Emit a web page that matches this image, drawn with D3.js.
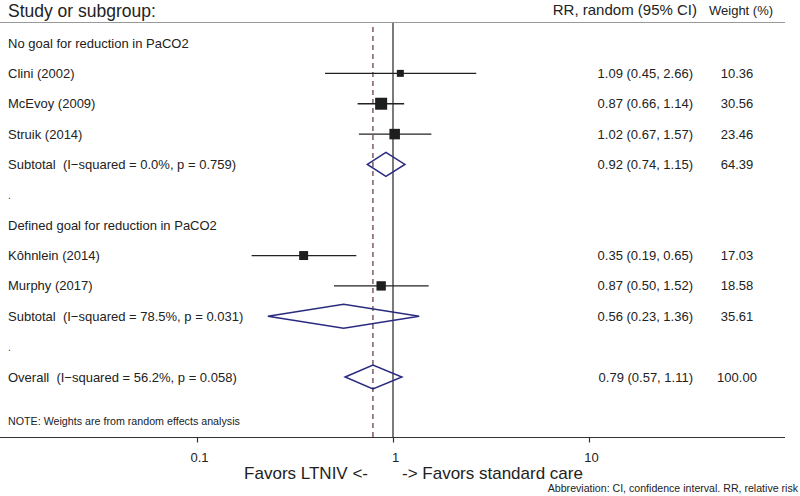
<!DOCTYPE html>
<html><head><meta charset="utf-8">
<script src="https://cdn.jsdelivr.net/npm/d3@7"></script>
<style>body{margin:0;background:#fff}svg{display:block}text{font-family:"Liberation Sans",Arial,sans-serif;fill:#222;white-space:pre}</style>
</head><body><svg id="c" width="800" height="496"></svg>
<script>
const labels = ["No goal for reduction in PaCO2","Clini (2002)","McEvoy (2009)","Struik (2014)","Subtotal  (I\u2212squared = 0.0%, p = 0.759)",".","Defined goal for reduction in PaCO2","K\u00f4hnlein (2014)","Murphy (2017)","Subtotal  (I\u2212squared = 78.5%, p = 0.031)",".","Overall  (I\u2212squared = 56.2%, p = 0.058)"];
const rowType = ["head","study","study","study","sub","dot","head","study","study","sub","dot","sub"];
const rr    = [null,1.09,0.87,1.02,0.92,null,null,0.35,0.87,0.56,null,0.79];
const lo    = [null,0.45,0.66,0.67,0.74,null,null,0.19,0.50,0.23,null,0.57];
const hi    = [null,2.66,1.14,1.57,1.15,null,null,0.65,1.52,1.36,null,1.11];
const weight= [null,10.36,30.56,23.46,64.39,null,null,17.03,18.58,35.61,null,100.00];
const tickVals = [0.1,1,10];
const overall = 0.79;

const svg = d3.select("#c");
const x = d3.scaleLog().domain([0.1,10]).range([197,589]);
const y = d3.scaleLinear().domain([0,11]).range([43,377]);

// header
svg.append("text").attr("x",8).attr("y",17).attr("font-size",17.5).text("Study or subgroup:");
svg.append("text").attr("x",697).attr("y",15).attr("text-anchor","end").attr("font-size",15).text("RR, random (95% CI)");
svg.append("text").attr("x",709).attr("y",15).attr("font-size",13).text("Weight (%)");
svg.append("line").attr("x1",0).attr("x2",785).attr("y1",22.5).attr("y2",22.5).attr("stroke","#999").attr("stroke-width",1);

// null & overall lines
svg.append("line").attr("x1",x(1)).attr("x2",x(1)).attr("y1",23).attr("y2",437).attr("stroke","#222").attr("stroke-width",1.2);
svg.append("line").attr("x1",x(overall)).attr("x2",x(overall)).attr("y1",27).attr("y2",437).attr("stroke","#5a3442").attr("stroke-width",1.2).attr("stroke-dasharray","5,4");

// rows
labels.forEach((l,i)=>{
  const yy = y(i);
  svg.append("text").attr("x",8).attr("y",yy+4.5).attr("font-size",l==="."?10:13).text(l);
  if(rr[i]!=null){
    svg.append("text").attr("x",693).attr("y",yy+4.5).attr("text-anchor","end").attr("font-size",13).text(`${rr[i].toFixed(2)} (${lo[i].toFixed(2)}, ${hi[i].toFixed(2)})`);
    svg.append("text").attr("x",737).attr("y",yy+4.5).attr("text-anchor","middle").attr("font-size",13).text(weight[i].toFixed(2));
  }
  if(rowType[i]==="study"){
    svg.append("line").attr("x1",x(lo[i])).attr("x2",x(hi[i])).attr("y1",yy).attr("y2",yy).attr("stroke","#222").attr("stroke-width",1.3);
    const s = 2.17*Math.sqrt(weight[i]);
    svg.append("rect").attr("x",x(rr[i])-s/2).attr("y",yy-s/2).attr("width",s).attr("height",s).attr("fill","#1e1e1e");
  } else if(rowType[i]==="sub"){
    const h=12;
    svg.append("path").attr("d",`M${x(lo[i])},${yy}L${x(rr[i])},${yy-h}L${x(hi[i])},${yy}L${x(rr[i])},${yy+h}Z`).attr("fill","none").attr("stroke","#2a2a80").attr("stroke-width",1.5);
  }
});

svg.append("text").attr("x",8).attr("y",425).attr("font-size",10.7).text("NOTE: Weights are from random effects analysis");

// axis
svg.append("line").attr("x1",0).attr("x2",785).attr("y1",437.5).attr("y2",437.5).attr("stroke","#333").attr("stroke-width",1.2);
const ax = svg.append("g").attr("transform","translate(0,437.5)").call(d3.axisBottom(x).tickValues(tickVals).tickFormat(d=>String(d)).tickSize(5).tickPadding(10));
ax.select(".domain").remove();
ax.selectAll(".tick line").attr("stroke","#333").attr("stroke-width",1.2);
ax.selectAll(".tick text").attr("font-size",13).attr("fill","#222").attr("font-family","Liberation Sans, Arial, sans-serif").attr("dx",2);

svg.append("text").attr("x",368).attr("y",479).attr("text-anchor","end").attr("font-size",17).text("Favors LTNIV <-");
svg.append("text").attr("x",402).attr("y",479).attr("font-size",17).text("-> Favors standard care");
svg.append("text").attr("x",798).attr("y",492).attr("text-anchor","end").attr("font-size",10.6).text("Abbreviation: CI, confidence interval. RR, relative risk");
</script></body></html>
